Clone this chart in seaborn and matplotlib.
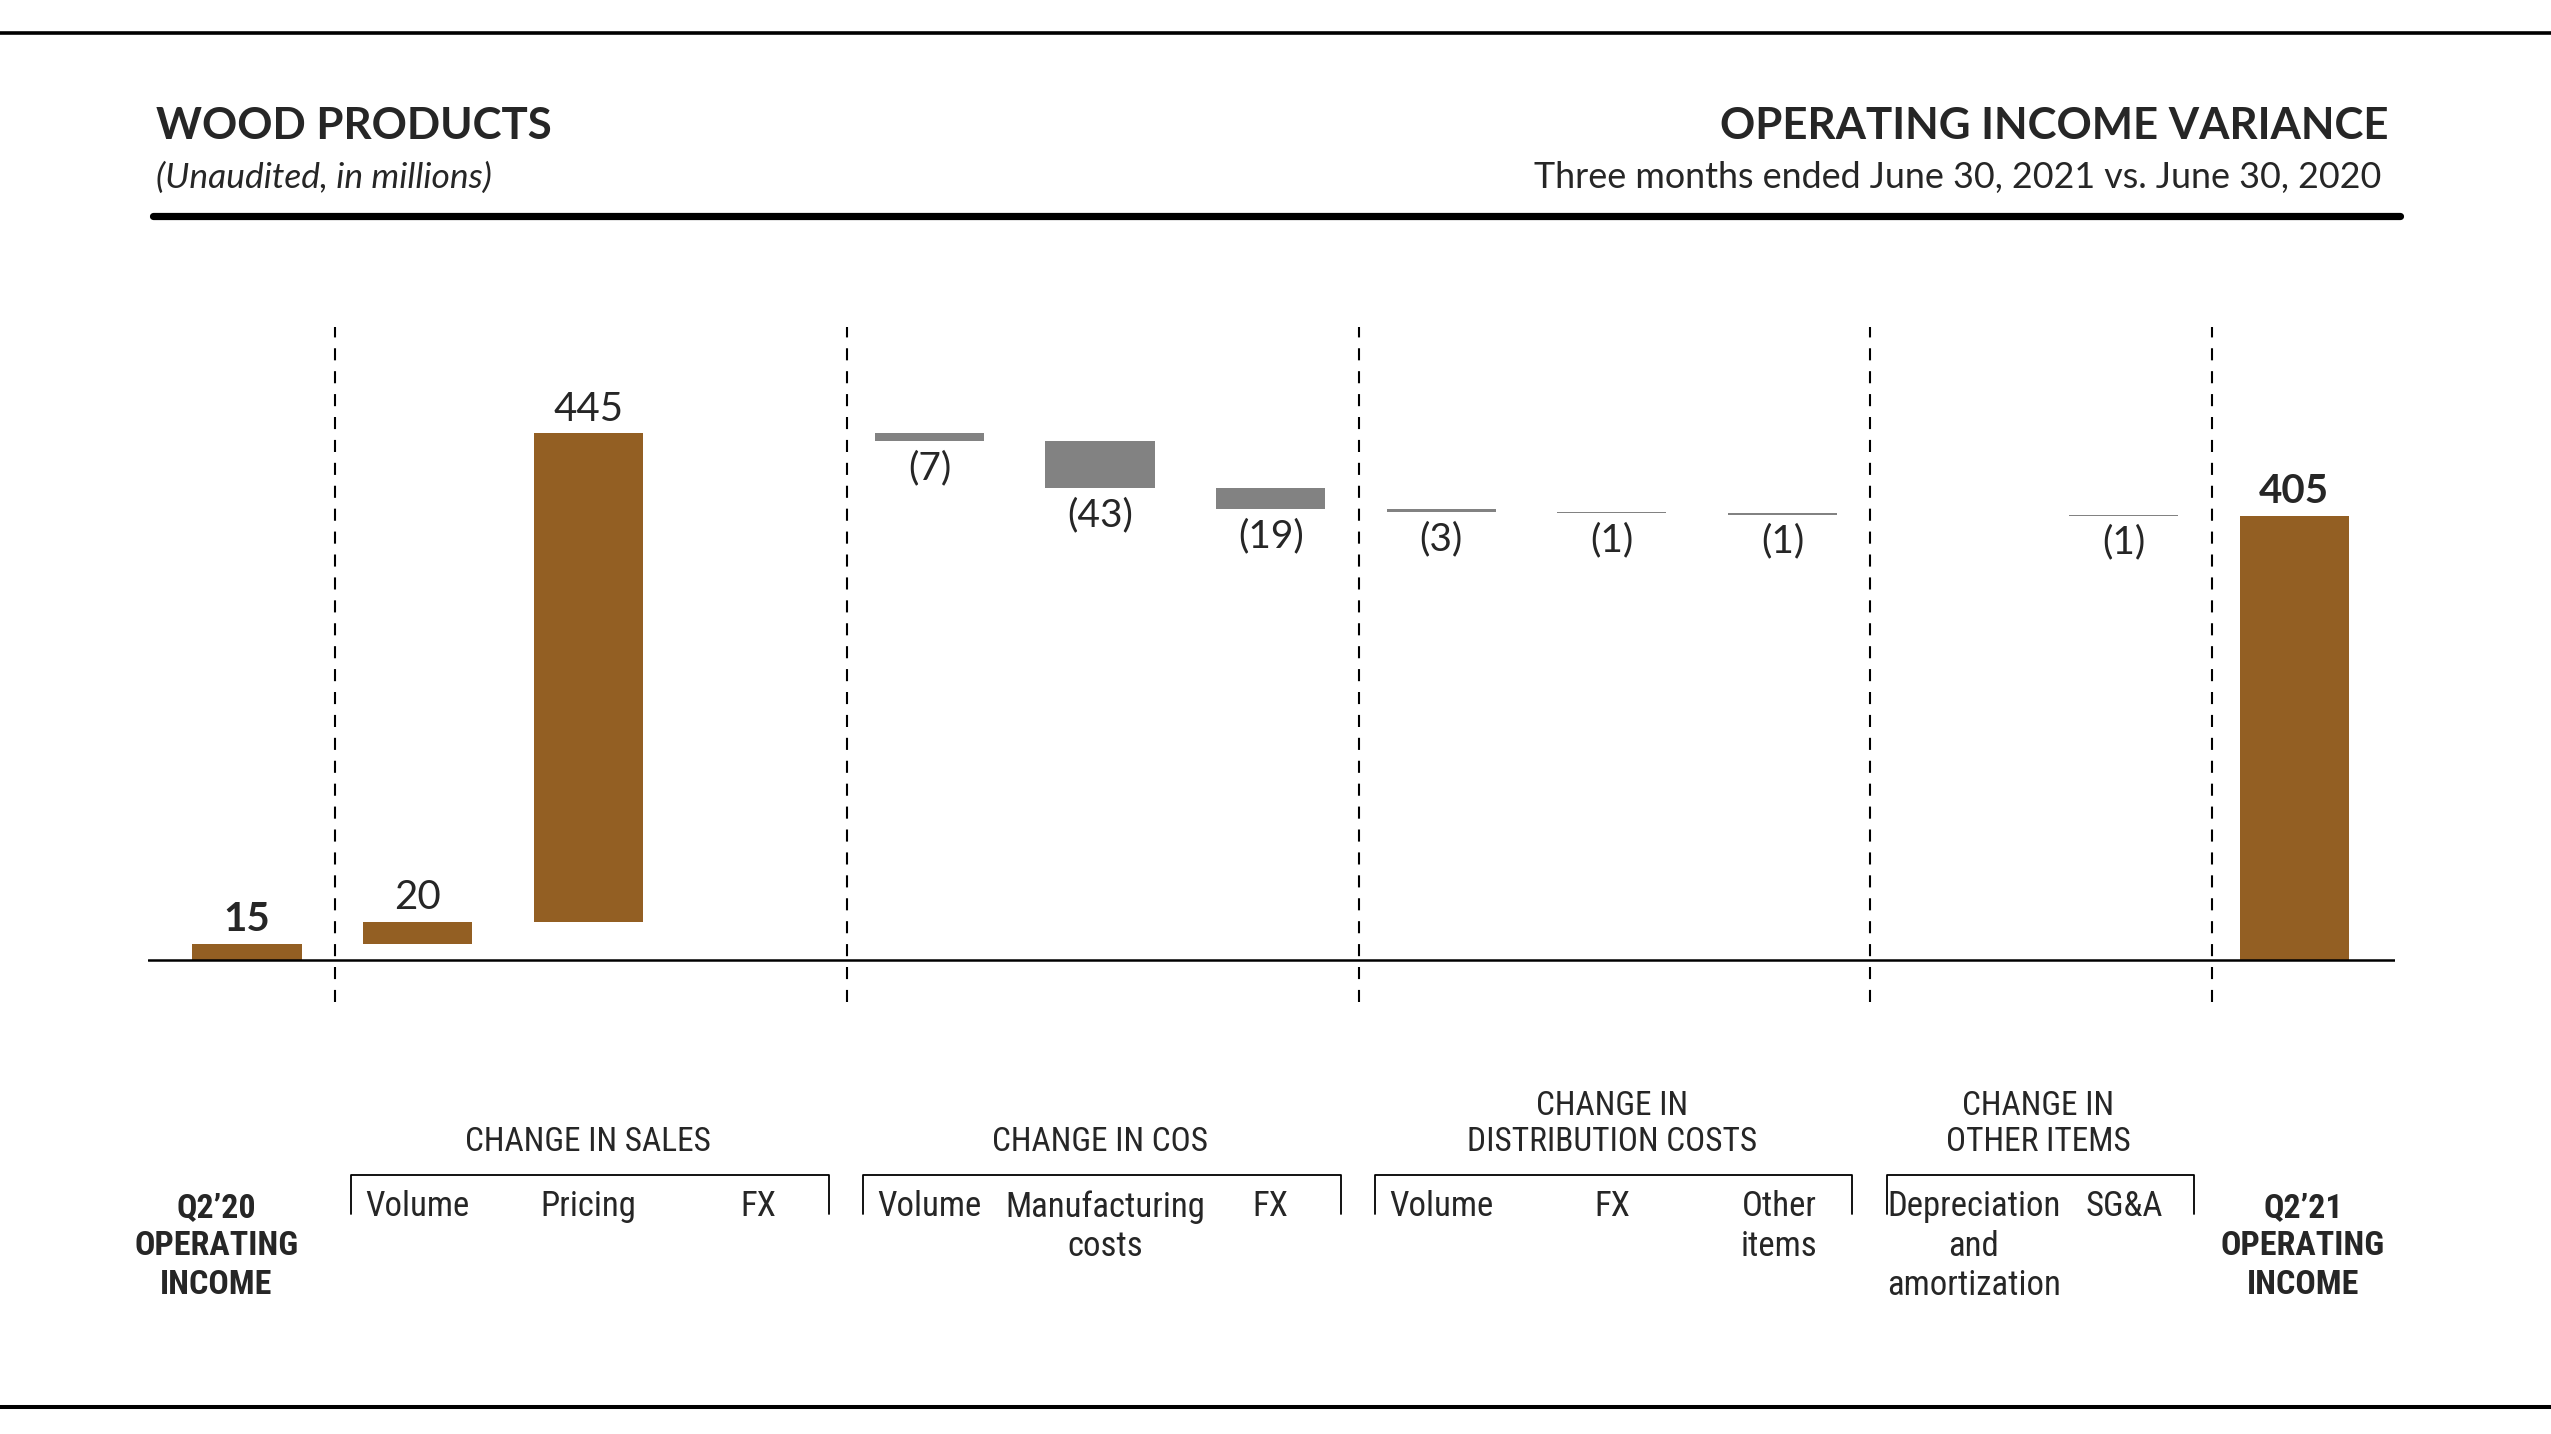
import matplotlib
matplotlib.use("Agg")
import matplotlib.pyplot as plt
import matplotlib.transforms as mtransforms
from matplotlib.lines import Line2D
from matplotlib import font_manager
import seaborn as sns
import numpy as np
import pandas as pd

# ---- data (millions) ----
step_keys = ["q2_20", "s_volume", "s_pricing", "s_fx",
             "c_volume", "c_mfg", "c_fx",
             "d_volume", "d_fx", "d_other",
             "o_dep", "o_sga", "q2_21"]
step_values = [15, 20, 445, 0, -7, -43, -19, -3, -1, -1, 0, -1, 405]
is_total = [True, False, False, False, False, False, False,
            False, False, False, False, False, True]
tick_labels = ["", "Volume", "Pricing", "FX",
               "Volume", "Manufacturing\ncosts", "FX",
               "Volume", "FX", "Other\nitems",
               "Depreciation\nand\namortization", "SG&A", ""]
total_labels = {0: "Q2’20\nOPERATING\nINCOME", 12: "Q2’21\nOPERATING\nINCOME"}
group_names = ["CHANGE IN SALES", "CHANGE IN COS",
               "CHANGE IN\nDISTRIBUTION COSTS", "CHANGE IN\nOTHER ITEMS"]
group_first = [1, 4, 7, 10]
group_last = [3, 6, 9, 11]

BROWN = "#935F23"
GRAY = "#828282"
# small horizontal nudges for the category labels (in category units)
label_shift = [0, 0, 0, 0, 0, 0.03, 0, 0, 0, -0.02, 0.12, 0, 0]

sns.set_style("white")
installed = {f.name for f in font_manager.fontManager.ttflist}
MAIN = "Lato" if "Lato" in installed else "DejaVu Sans"
NARROW = MAIN
narrow_scale = 0.86
for cand in ["Liberation Sans Narrow", "Roboto Condensed", "DejaVu Sans Condensed"]:
    if cand in installed:
        NARROW = cand
        narrow_scale = 1.0
        break
plt.rcParams["font.family"] = [MAIN, "DejaVu Sans"]

# running waterfall bottoms
bottoms, heights = [], []
running = 0
for v, tot in zip(step_values, is_total):
    if tot:
        bottoms.append(0)
        running = v
    else:
        bottoms.append(running)
        running += v
    heights.append(v)
df = pd.DataFrame({"step": step_keys, "height": heights})

W, H = 2551, 1434
fig = plt.figure(figsize=(W / 100, H / 100), dpi=100)

def fy(px):
    return 1 - px / H

def fx(px):
    return px / W

# axes spans the dashed separators: x 148..2395 px, y 327..1002 px
ax = fig.add_axes([fx(148), fy(1002), fx(2395 - 148), (1002 - 327) / H])

sns.barplot(data=df, x="step", y="height", order=step_keys, bottom=bottoms,
            width=0.64, color=BROWN, saturation=1, errorbar=None,
            linewidth=0, ax=ax)
for p, h in zip(ax.patches, heights):
    if h < 0:
        p.set_facecolor(GRAY)

ax.set_xlim(-0.58, 12.59)
ax.set_ylim(-38.3, 577)
ax.set_xticks([])
ax.set_yticks([])
ax.set_xlabel("")
ax.set_ylabel("")
for s in ax.spines.values():
    s.set_visible(False)

ax.axhline(0, color="black", lw=1.8, zorder=3)
for xs in [0.5] + [last + 0.5 for last in group_last]:
    ax.axvline(xs + 0.015, color="black", lw=1.5, ls=(0, (5.8, 5.2)), zorder=1)

# value labels
for i, (v, b, tot) in enumerate(zip(step_values, bottoms, is_total)):
    if v == 0:
        continue
    if v > 0:
        ax.annotate(str(v), (i, b + v), xytext=(0, 4), textcoords="offset points",
                    ha="center", va="bottom", fontsize=29,
                    fontweight="bold" if tot else "normal")
    else:
        ax.annotate(f"({abs(v)})", (i, b + v), xytext=(0, -6.5), textcoords="offset points",
                    ha="center", va="top", fontsize=28)

# bottom labels
tr = mtransforms.blended_transform_factory(ax.transData, fig.transFigure)
for i, lab in enumerate(tick_labels):
    if lab:
        ax.text(i + label_shift[i], fy(1190), lab, transform=tr, ha="center", va="top",
                fontsize=25 * narrow_scale, family=NARROW, linespacing=1.25)
for i, lab in total_labels.items():
    ax.text(i + (-0.18 if i == 0 else 0.05), fy(1192), lab, transform=tr,
            ha="center", va="top", fontsize=24.5 * narrow_scale, family=NARROW,
            fontweight="bold", linespacing=1.25)
for name, a, b in zip(group_names, group_first, group_last):
    ax.text((a + b) / 2, fy(1158), name, transform=tr, ha="center", va="bottom",
            fontsize=24 * narrow_scale, family=NARROW, linespacing=1.15)
    x0, x1 = a - 0.39, b + 0.41
    ax.plot([x0, x0, x1, x1], [fy(1214), fy(1175), fy(1175), fy(1214)],
            transform=tr, color="black", lw=1.3, clip_on=False)

# header
fig.text(fx(156), fy(139), "WOOD PRODUCTS", fontsize=31.5, fontweight="bold",
         ha="left", va="baseline")
fig.text(fx(156), fy(188), "(Unaudited, in millions)", fontsize=25.5, style="italic",
         ha="left", va="baseline")
fig.text(fx(2389), fy(139), "OPERATING INCOME VARIANCE", fontsize=31.5, fontweight="bold",
         ha="right", va="baseline")
fig.text(fx(2381), fy(188), "Three months ended June 30, 2021 vs. June 30, 2020",
         fontsize=25.8, ha="right", va="baseline")

fig.add_artist(Line2D([0, 1], [fy(33), fy(33)], color="black", lw=2.6))
fig.add_artist(Line2D([fx(153), fx(2400)], [fy(215.5), fy(215.5)], color="black", lw=5.2))
fig.add_artist(Line2D([0, 1], [fy(1407), fy(1407)], color="black", lw=2.9))

fig.savefig("out.png", dpi=100)
